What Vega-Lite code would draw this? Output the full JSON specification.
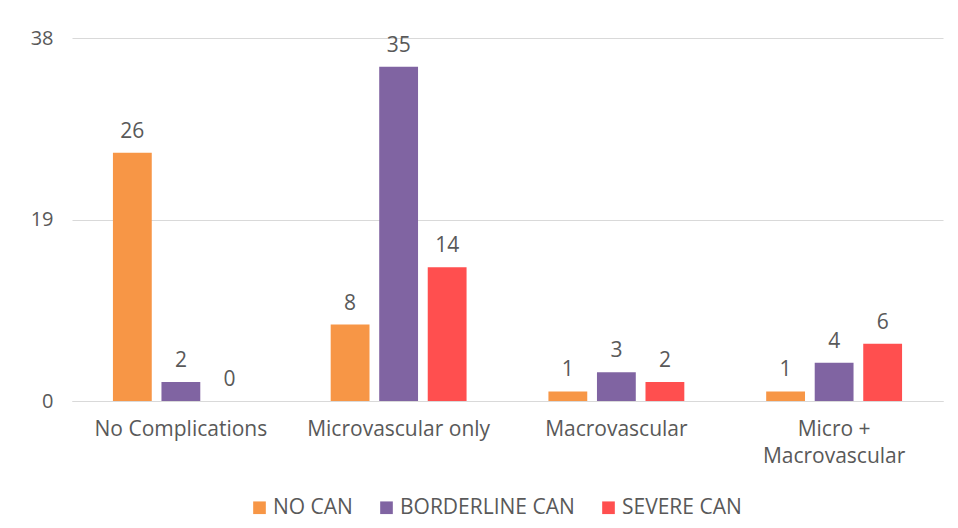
{
  "$schema": "https://vega.github.io/schema/vega-lite/v6.json",
  "width": 871,
  "height": 363,
  "autosize": "none",
  "padding": {"left": 72, "top": 38, "right": 15, "bottom": 127},
  "background": "white",
  "config": {
    "font": "Open Sans",
    "view": {"stroke": null},
    "axis": {"labelColor": "#595959", "labelFontSize": 21, "labelFont": "Open Sans", "labelLimit": 0}
  },
  "data": {
    "values": [
      {"group": "No Complications", "status": "NO CAN", "count": 26},
      {"group": "No Complications", "status": "BORDERLINE CAN", "count": 2},
      {"group": "No Complications", "status": "SEVERE CAN", "count": 0},
      {"group": "Microvascular only", "status": "NO CAN", "count": 8},
      {"group": "Microvascular only", "status": "BORDERLINE CAN", "count": 35},
      {"group": "Microvascular only", "status": "SEVERE CAN", "count": 14},
      {"group": "Macrovascular", "status": "NO CAN", "count": 1},
      {"group": "Macrovascular", "status": "BORDERLINE CAN", "count": 3},
      {"group": "Macrovascular", "status": "SEVERE CAN", "count": 2},
      {"group": "Micro + Macrovascular", "status": "NO CAN", "count": 1},
      {"group": "Micro + Macrovascular", "status": "BORDERLINE CAN", "count": 4},
      {"group": "Micro + Macrovascular", "status": "SEVERE CAN", "count": 6}
    ]
  },
  "encoding": {
    "x": {
      "field": "group",
      "type": "nominal",
      "sort": null,
      "title": null,
      "scale": {"paddingInner": 0.376, "paddingOuter": 0.188},
      "axis": {
        "labelAngle": 0,
        "domain": true,
        "domainColor": "#d9d9d9",
        "ticks": false,
        "labelPadding": 17,
        "labelLineHeight": 27,
        "labelExpr": "datum.label == 'Micro + Macrovascular' ? ['Micro +', 'Macrovascular'] : datum.label"
      }
    },
    "xOffset": {
      "field": "status",
      "type": "nominal",
      "sort": ["NO CAN", "BORDERLINE CAN", "SEVERE CAN"],
      "scale": {"paddingInner": 0.2, "paddingOuter": 0}
    },
    "y": {
      "field": "count",
      "type": "quantitative",
      "title": null,
      "scale": {"domain": [0, 38], "nice": false},
      "axis": {
        "values": [0, 19, 38],
        "domain": false,
        "ticks": false,
        "gridColor": "#d9d9d9",
        "labelFontSize": 20,
        "labelPadding": 19
      }
    },
    "color": {
      "field": "status",
      "type": "nominal",
      "sort": ["NO CAN", "BORDERLINE CAN", "SEVERE CAN"],
      "scale": {
        "domain": ["NO CAN", "BORDERLINE CAN", "SEVERE CAN"],
        "range": ["#f79646", "#8064a2", "#ff4f4f"]
      },
      "legend": {
        "title": null,
        "orient": "none",
        "legendX": 177,
        "legendY": 459,
        "direction": "horizontal",
        "symbolType": "square",
        "symbolSize": 160,
        "symbolStrokeWidth": 0,
        "labelFontSize": 21,
        "labelLimit": 400,
        "labelColor": "#595959",
        "labelFont": "Open Sans",
        "columnPadding": 23,
        "labelOffset": 3
      }
    }
  },
  "layer": [
    {"mark": {"type": "bar"}},
    {
      "mark": {"type": "text", "baseline": "alphabetic", "dy": -15, "fontSize": 21},
      "encoding": {
        "text": {"field": "count", "type": "quantitative"},
        "color": {"value": "#595959"}
      }
    }
  ]
}
